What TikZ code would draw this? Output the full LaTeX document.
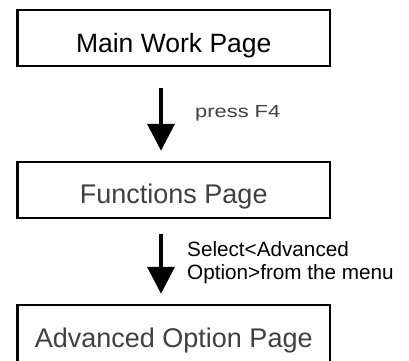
\documentclass[tikz,border=0pt]{standalone}
\usepackage{fontspec}
\usepackage{graphicx}
\setmainfont{Liberation Sans}
\usetikzlibrary{arrows.meta}
\definecolor{txtgray}{RGB}{64,64,64}
\tikzset{
  pagebox/.style={draw=black, line width=2.5pt, minimum width=312.5pt, inner sep=0pt, text depth=0pt},
  flowarrow/.style={line width=4pt, -{Triangle[length=27pt,width=27pt]}},
  steplabel/.style={inner sep=0pt, anchor=base west}
}
\begin{document}
\begin{tikzpicture}[x=1pt,y=-1pt]
\useasboundingbox (0,0) rectangle (409,360);
\clip (0,0) rectangle (409,360);
\node[pagebox, minimum height=56pt, text height=28pt, font=\fontsize{26.5}{30}\selectfont] (b1) at (173.75,38) {Main Work Page};
\node[pagebox, minimum height=56pt, text height=26pt, text=txtgray, font=\fontsize{27}{30}\selectfont] (b2) at (173.75,190) {Functions Page};
\node[pagebox, minimum height=62pt, text height=22pt, text=txtgray, font=\fontsize{27}{30}\selectfont] (b3) at (173.75,336) {Advanced Option Page};
\draw[flowarrow] ([xshift=-12.75pt,yshift=-21pt]b1.south) -- ([xshift=-12.75pt,yshift=10pt]b2.north);
\draw[flowarrow] ([xshift=-12.75pt,yshift=-15pt]b2.south) -- ([xshift=-12.75pt,yshift=10pt]b3.north);
\node[steplabel, text=txtgray, font=\fontsize{17.5}{20}\selectfont] (l1) at (195,117) {\scalebox{1.25}[1]{press F4}};
\node[steplabel, align=left, font=\fontsize{20.7}{23}\selectfont] (l2) at (187,279) {Select<Advanced\\Option>from the menu};
\end{tikzpicture}
\end{document}
